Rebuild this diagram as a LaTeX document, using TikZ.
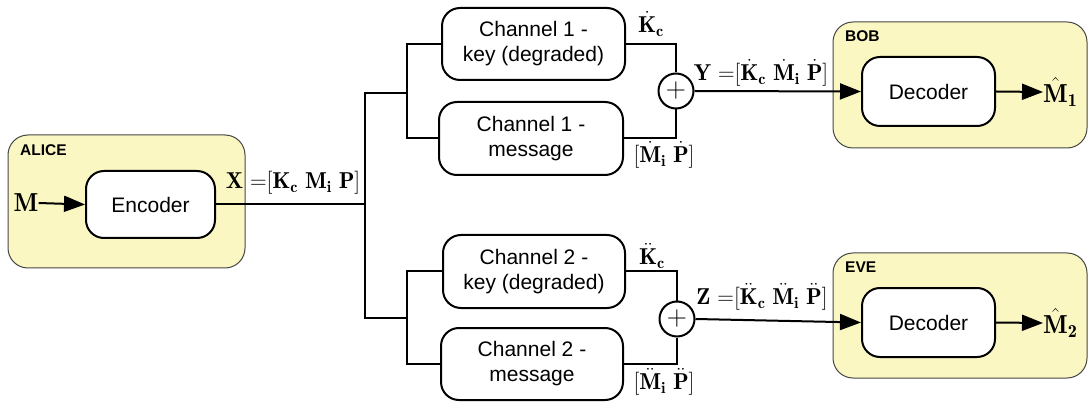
\RequirePackage{fix-cm}
\documentclass[tikz,border=0pt]{standalone}
\usepackage{fontspec}
\setsansfont{Liberation Sans}
\usetikzlibrary{arrows.meta,calc}
\definecolor{partyfill}{RGB}{251,247,194}
\definecolor{partyline}{RGB}{70,70,70}
\begin{document}
\begin{tikzpicture}[x=1pt,y=-1pt,
  party/.style={draw=partyline,line width=1pt,fill=partyfill,rounded corners=20pt},
  partylabel/.style={anchor=west,font=\sffamily\bfseries\fontsize{15.5}{17}\selectfont,inner sep=0pt},
  blockbox/.style={draw=black,line width=2pt,fill=white,rounded corners=18pt,align=center,
     font=\sffamily\fontsize{21}{25}\selectfont,inner sep=0pt},
  wire/.style={line width=2pt},
  arr/.style={line width=2pt,-{Triangle[length=21pt,width=16pt]}},
  sumnode/.style={circle,draw=black,line width=2pt,fill=white,minimum size=35pt,inner sep=0pt,
     font=\fontsize{28}{28}\selectfont},
  mlabel/.style={inner sep=0pt,font=\fontsize{23}{25}\selectfont},
  biglabel/.style={inner sep=0pt,font=\fontsize{26}{28}\selectfont}]
\useasboundingbox (0,0) rectangle (1089,403);

% party areas
\draw[party] (8,135) rectangle (245,268);
\draw[party] (833,22) rectangle (1087,148);
\draw[party] (833,253) rectangle (1087,378);
\node[partylabel] (alice) at (20,150) {ALICE};
\node[partylabel] (bob) at (845,36) {BOB};
\node[partylabel] (eve) at (845,267) {EVE};

% blocks
\node[blockbox,minimum width=129pt,minimum height=67pt] (enc) at (150.5,204.5) {Encoder};
\node[blockbox,minimum width=183pt,minimum height=72pt] (key1) at (533.5,44) {Channel 1 -\\key (degraded)};
\node[blockbox,minimum width=184pt,minimum height=73pt] (msg1) at (531,138.5) {Channel 1 -\\message};
\node[blockbox,minimum width=182pt,minimum height=73pt] (key2) at (534,271.5) {Channel 2 -\\key (degraded)};
\node[blockbox,minimum width=182pt,minimum height=72pt] (msg2) at (532,364) {Channel 2 -\\message};
\node[blockbox,minimum width=133pt,minimum height=69pt] (dec1) at (928.5,91.5) {Decoder};
\node[blockbox,minimum width=133pt,minimum height=69pt] (dec2) at (928.5,322.5) {Decoder};

\node[sumnode] (sum1) at (676,91) {$+$};
\node[sumnode] (sum2) at (677,319) {$+$};

% junction coordinates
\coordinate (jt) at (365,93);
\coordinate (jb) at (365,318);
\coordinate (s1) at (407,93);
\coordinate (s2) at (407,318);

% input/output
\node[biglabel] (m) at (26,203) {$\mathbf{M}$};
\draw[arr] (m.east) -- (enc.west);
\node[biglabel,anchor=west] (m1) at (1043,92) {$\hat{\mathbf{M}}_{\mathbf{1}}$};
\node[biglabel,anchor=west] (m2) at (1043,323) {$\hat{\mathbf{M}}_{\mathbf{2}}$};
\draw[arr] (dec1.east) -- (m1.west);
\draw[arr] (dec2.east) -- (m2.west);

% distribution tree
\draw[wire] (enc.east) -| (jt) -- (s1);
\draw[wire] (jt) |- (s2);
\draw[wire] (key1.west) -| (s1) |- (msg1.west);
\draw[wire] (key2.west) -| (s2) |- (msg2.west);

% to adders
\draw[wire] (key1.east) -| (sum1.north);
\draw[wire] (msg1.east) -| (sum1.south);
\draw[wire] (key2.east) -| (sum2.north);
\draw[wire] (msg2.east) -| (sum2.south);
\draw[arr] (sum1.east) -- (dec1.west);
\draw[arr] (sum2.east) -- (dec2.west);

% labels
\node[mlabel] (xl) at (293,183) {$\mathbf{X}$ =$[\mathbf{K}_{\mathbf{c}}\ \mathbf{M}_{\mathbf{i}}\ \mathbf{P}]$};
\node[mlabel] (k1l) at (651,24) {$\dot{\mathbf{K}}_{\mathbf{c}}$};
\node[mlabel] (m1l) at (664,155) {$[\dot{\mathbf{M}}_{\mathbf{i}}\ \dot{\mathbf{P}}]$};
\node[mlabel] (yl) at (761,73) {$\mathbf{Y}$ =$[\dot{\mathbf{K}}_{\mathbf{c}}\ \dot{\mathbf{M}}_{\mathbf{i}}\ \dot{\mathbf{P}}]$};
\node[mlabel] (k2l) at (652,256) {$\ddot{\mathbf{K}}_{\mathbf{c}}$};
\node[mlabel] (m2l) at (664,382) {$[\ddot{\mathbf{M}}_{\mathbf{i}}\ \ddot{\mathbf{P}}]$};
\node[mlabel] (zl) at (762,297) {$\mathbf{Z}$ =$[\ddot{\mathbf{K}}_{\mathbf{c}}\ \ddot{\mathbf{M}}_{\mathbf{i}}\ \ddot{\mathbf{P}}]$};
\end{tikzpicture}
\end{document}
